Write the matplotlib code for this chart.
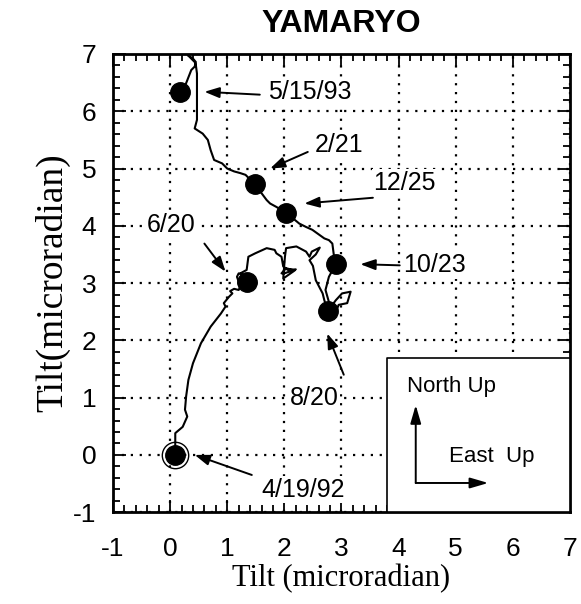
import numpy as np
import matplotlib
matplotlib.use("Agg")
import matplotlib.pyplot as plt
from matplotlib.ticker import MultipleLocator

plt.rcParams["axes.unicode_minus"] = False

# tilt vector trajectory (east, north) in microradian
path_x = [0.09, 0.09, 0.09, 0.22, 0.30, 0.26, 0.28, 0.32, 0.40, 0.54, 0.71, 0.89, 0.97, 0.94, 1.03,
          1.09, 1.05, 1.12, 1.20, 1.23, 1.17, 1.20, 1.29, 1.34, 1.29, 1.23, 1.34, 1.37, 1.49, 1.69,
          1.83, 1.86, 1.95, 1.98, 2.06, 2.20, 2.00, 1.95, 2.03, 2.18, 1.98, 2.01, 2.03, 2.21, 2.38,
          2.44, 2.48, 2.62, 2.55, 2.44, 2.50, 2.55, 2.67, 2.70, 2.76, 2.90, 3.01, 3.16, 3.10, 2.95,
          2.87, 2.80, 2.72, 2.78, 2.90, 2.87, 2.84, 2.78, 2.70, 2.49, 2.38, 2.26, 2.03, 1.86, 1.75,
          1.69, 1.48, 1.32, 1.23, 1.12, 1.00, 0.91, 0.77, 0.71, 0.66, 0.57, 0.43, 0.47, 0.47, 0.45,
          0.43, 0.37, 0.31, 0.40, 0.45, 0.43, 0.37, 0.28, 0.18]
path_y = [0.00, 0.23, 0.38, 0.49, 0.67, 0.79, 1.02, 1.31, 1.60, 1.95, 2.24, 2.47, 2.59, 2.65, 2.76,
          2.82, 2.86, 2.90, 2.88, 2.94, 3.11, 3.17, 3.14, 3.02, 3.12, 3.17, 3.23, 3.46, 3.52, 3.61,
          3.58, 3.52, 3.46, 3.29, 3.23, 3.24, 3.17, 3.17, 3.26, 3.22, 3.08, 3.46, 3.61, 3.64, 3.55,
          3.46, 3.55, 3.62, 3.50, 3.40, 3.30, 3.05, 2.82, 2.70, 2.51, 2.70, 2.82, 2.85, 2.65, 2.62,
          2.41, 2.60, 2.88, 3.11, 3.33, 3.46, 3.69, 3.75, 3.78, 3.93, 3.98, 4.04, 4.23, 4.33, 4.39,
          4.45, 4.73, 4.89, 4.92, 4.95, 5.00, 5.09, 5.15, 5.32, 5.50, 5.61, 5.70, 5.85, 6.66, 6.81,
          6.86, 6.92, 6.98, 6.92, 6.86, 6.78, 6.72, 6.49, 6.34]

# dated points
dot_x = [0.09, 1.34, 2.76, 2.90, 2.03, 1.48, 0.18]
dot_y = [0.00, 3.02, 2.51, 3.33, 4.23, 4.73, 6.34]

# annotations: label, text pos, arrow tail, arrow tip
labels = ["5/15/93", "2/21", "12/25", "10/23", "8/20", "6/20", "4/19/92"]
label_pos = [(2.45, 6.33), (2.95, 5.41), (4.10, 4.75), (4.62, 3.31), (2.52, 1.00), (0.02, 4.01), (2.33, -0.61)]
arrow_tail = [(1.57, 6.29), (2.41, 5.29), (3.55, 4.49), (4.02, 3.31), (3.04, 1.40), (0.60, 3.69), (1.43, -0.35)]
arrow_tip = [(0.60, 6.34), (1.75, 5.00), (2.35, 4.39), (3.33, 3.33), (2.75, 2.12), (0.97, 3.20), (0.43, 0.00)]

sans = ["Liberation Sans", "DejaVu Sans"]
serif = ["Liberation Serif", "DejaVu Serif"]

fig = plt.figure(figsize=(5.81, 6.04), dpi=100)
ax = fig.add_axes([0.1945, 0.152, 0.7865, 0.7586])

ax.set_xlim(-1, 7)
ax.set_ylim(-1, 7)
ax.xaxis.set_major_locator(MultipleLocator(1))
ax.yaxis.set_major_locator(MultipleLocator(1))
ax.xaxis.set_minor_locator(MultipleLocator(0.2))
ax.yaxis.set_minor_locator(MultipleLocator(0.2))
ax.tick_params(which="both", direction="in", top=True, right=True, width=1.3, colors="k")
ax.tick_params(which="major", length=9, labelsize=19)
ax.tick_params(which="minor", length=5)
ax.tick_params(axis="x", which="major", pad=18)
ax.tick_params(axis="y", which="major", pad=12)
for lab in ax.get_xticklabels() + ax.get_yticklabels():
    lab.set_family(sans)
for s in ax.spines.values():
    s.set_linewidth(2)

ax.grid(True, which="major", linestyle=(0, (1, 3)), color="k", linewidth=1.6)

ax.plot(path_x, path_y, color="k", lw=1.5, zorder=3)
ax.plot(dot_x, dot_y, "o", color="k", ms=14, zorder=4)
ax.plot(dot_x[0], dot_y[0], "o", mfc="none", mec="k", ms=19, mew=1, zorder=4)

for lab, tp, tail, tip in zip(labels, label_pos, arrow_tail, arrow_tip):
    ax.text(tp[0], tp[1], lab, fontsize=18, family=sans, ha="center", va="center", zorder=5,
            bbox=dict(facecolor="white", edgecolor="none", pad=1))
    ax.annotate("", xy=tip, xytext=tail,
                arrowprops=dict(arrowstyle="-|>,head_length=0.9,head_width=0.32",
                                color="k", lw=1.4, shrinkA=0, shrinkB=0), zorder=5)

# orientation inset
box_x = [3.79, 7.0, 7.0, 3.79, 3.79]
box_y = [-1.0, -1.0, 1.69, 1.69, -1.0]
ax.fill(box_x, box_y, color="white", zorder=6)
ax.plot(box_x, box_y, color="k", lw=1.2, zorder=7)
ax.text(4.14, 1.19, "North Up", fontsize=16, family=sans, va="center", zorder=8)
ax.text(4.88, -0.03, "East  Up", fontsize=16, family=sans, va="center", zorder=8)
ax.annotate("", xy=(4.3, 0.87), xytext=(4.3, -0.49),
            arrowprops=dict(arrowstyle="-|>,head_length=1.1,head_width=0.32", color="k", lw=1.4,
                            shrinkA=0, shrinkB=0), zorder=8)
ax.annotate("", xy=(5.57, -0.49), xytext=(4.3, -0.49),
            arrowprops=dict(arrowstyle="-|>,head_length=1.1,head_width=0.32", color="k", lw=1.4,
                            shrinkA=0, shrinkB=0), zorder=8)

ax.set_title("YAMARYO", fontsize=23, fontweight="bold", family=sans, pad=16)
ax.set_xlabel("Tilt (microradian)", fontsize=22, family=serif, labelpad=2)
ax.set_ylabel("Tilt(microradian)", fontsize=27, family=serif, labelpad=2)

fig.savefig("out.png", dpi=100)
